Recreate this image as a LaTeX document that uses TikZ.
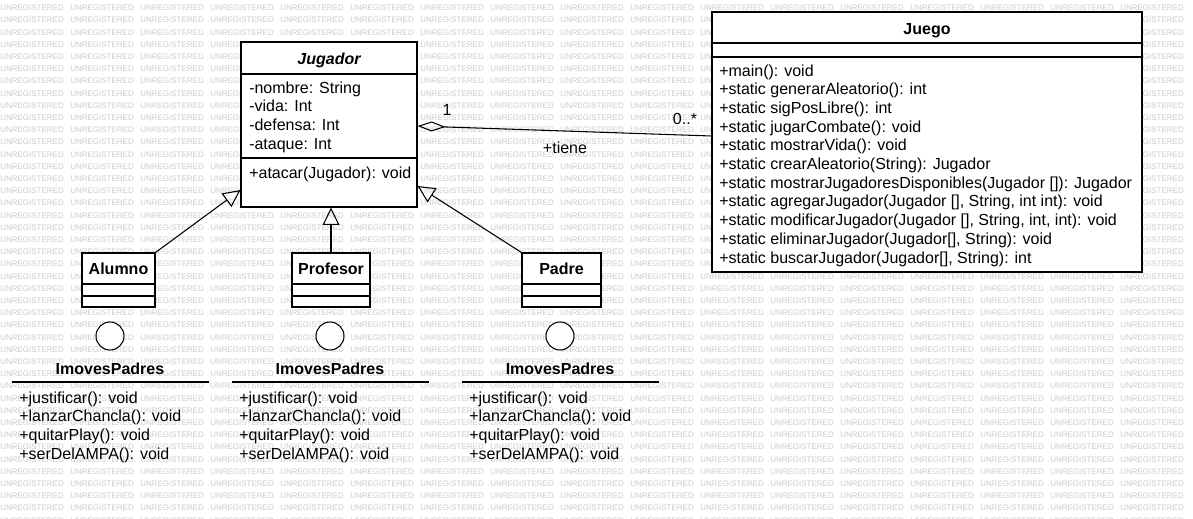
\documentclass[tikz,border=0pt]{standalone}
\usepackage{fontspec}
\setmainfont{Liberation Sans}
\usepackage{tikz}
\usetikzlibrary{arrows.meta,fit}

\begin{document}
\begin{tikzpicture}[x=.75pt,y=-.75pt,
  cls/.style={draw,fill=white,line width=.8pt,inner sep=0pt},
  txt/.style={inner sep=0pt,font=\fontsize{12}{14}\selectfont},
  ttl/.style={inner sep=0pt,font=\fontsize{12}{14}\selectfont\bfseries},
  gen/.style={-{Triangle[open,length=13pt,width=12.5pt]},line width=.8pt},
  wmark/.style={inner sep=0pt,anchor=west,text=black!20,font=\fontsize{6}{6}\selectfont}]
\useasboundingbox (0,0) rectangle (1193,518);
\clip (0,0) rectangle (1193,518);
\fill[white] (0,0) rectangle (1193,518);
% watermark
\foreach \r in {0,...,42}{\foreach \c in {0,...,16}{\node[wmark] (w\r-\c) at (70*\c,{8+12.2*\r}) {UNREGISTERED};}}

% Jugador
\node[cls,fit={(241,42)(417,207)}] (jug) {};
\node[ttl,anchor=base] (jug-t) at (329,64) {\itshape Jugador};
\draw[line width=.8pt] (jug.west|-0,74)--(jug.east|-0,74) (jug.west|-0,158)--(jug.east|-0,158);
\foreach \t [count=\i] in {-nombre: String,-vida: Int,-defensa: Int,-ataque: Int}
  \node[txt,anchor=base west] (jug-a\i) at (249,{93+18.7*(\i-1)}) {\t};
\node[txt,anchor=base west] (jug-m1) at (249,178) {+atacar(Jugador): void};

% Juego
\node[cls,fit={(712,12)(1142,272)}] (juego) {};
\node[ttl,anchor=base] (juego-t) at (927,34) {Juego};
\draw[line width=.8pt] (juego.west|-0,43)--(juego.east|-0,43) (juego.west|-0,57)--(juego.east|-0,57);
\foreach \t [count=\i] in {{+main(): void},{+static generarAleatorio(): int},{+static sigPosLibre(): int},
  {+static jugarCombate(): void},{+static mostrarVida(): void},{+static crearAleatorio(String): Jugador},
  {+static mostrarJugadoresDisponibles(Jugador []): Jugador},{+static agregarJugador(Jugador [], String, int int): void},
  {+static modificarJugador(Jugador [], String, int, int): void},{+static eliminarJugador(Jugador[], String): void},
  {+static buscarJugador(Jugador[], String): int}}
  \node[txt,anchor=base west] (juego-m\i) at (719,{76+18.7*(\i-1)}) {\t};

% association
\draw[{Diamond[open,length=21pt,width=7.5pt]}-,line width=.8pt] (jug.east|-0,126)--(juego.west|-0,136);
\node[txt] (mult1) at (447,110) {1};
\node[txt] (mult2) at (685,119) {0..*};
\node[txt] (rol) at (565,148) {+tiene};

% subclasses
\foreach \xa/\xb/\nm/\id in {82/155/Alumno/alu,292/370/Profesor/pro,522/601/Padre/pad}{
  \node[cls,fit={(\xa,253)(\xb,307)}] (\id) {};
  \node[ttl,anchor=base] (\id-t) at ({(\xa+\xb)/2},274) {\nm};
  \draw[line width=.8pt] (\id.west|-0,284)--(\id.east|-0,284) (\id.west|-0,296)--(\id.east|-0,296);
}
\draw[gen] (alu.north east)--(jug.west|-0,190);
\draw[gen] (pro.north)--(pro.north|-jug.south);
\draw[gen] (pad.north west)--(jug.east|-0,186);

% interfaces
\foreach \cx/\id in {110/ia,330/ib,560/ic}{
  \node[draw,circle,fill=white,minimum size=21pt,inner sep=0pt,line width=.8pt] (\id-c) at (\cx,336) {};
  \node[ttl,anchor=base] (\id-t) at (\cx,374) {ImovesPadres};
  \draw[line width=.8pt] (\cx-98,382)--(\cx+99,382);
  \foreach \t [count=\i] in {+justificar(): void,+lanzarChancla(): void,+quitarPlay(): void,+serDelAMPA(): void}
    \node[txt,anchor=base west] (\id-m\i) at (\cx-91,{403+18.7*(\i-1)}) {\t};
}
\end{tikzpicture}
\end{document}
